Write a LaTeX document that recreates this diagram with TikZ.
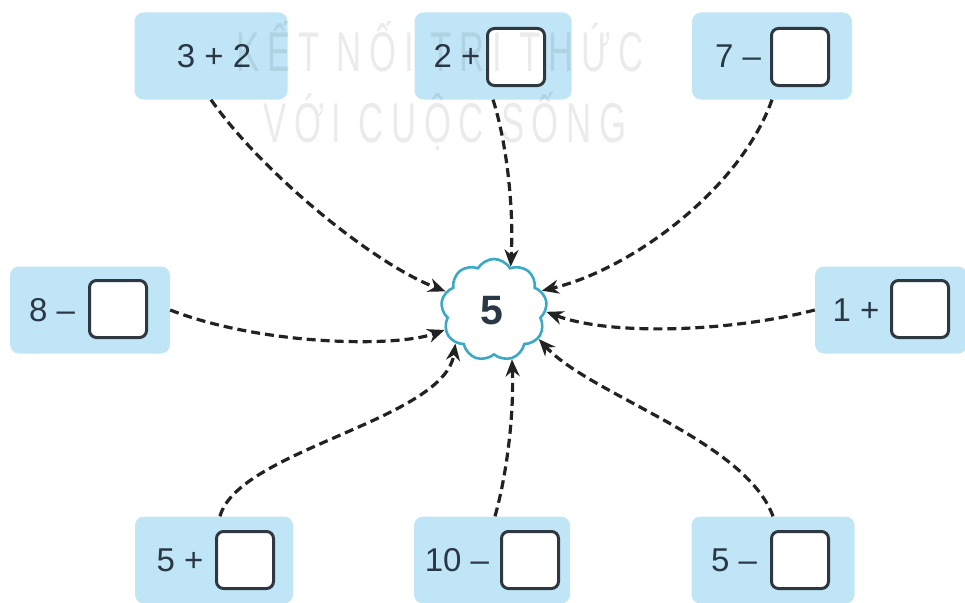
\documentclass[tikz,border=0pt]{standalone}
\usepackage{fontspec}
\setmainfont{Liberation Sans}
\newfontfamily\wmfont[LetterSpace=22]{Liberation Sans}
\usetikzlibrary{shapes.symbols,arrows.meta}
\definecolor{boxblue}{RGB}{192,229,246}
\definecolor{txt}{RGB}{42,56,70}
\definecolor{sqdark}{RGB}{47,56,64}
\definecolor{arr}{RGB}{34,34,34}
\definecolor{cloudc}{RGB}{59,169,198}
\begin{document}
\begin{tikzpicture}[x=1pt,y=-1pt,
 boxst/.style={fill=boxblue, rounded corners=9pt, minimum width=#1, minimum height=87pt, inner sep=0pt},
 sq/.style={draw=sqdark, fill=white, line width=3pt, rounded corners=7pt, minimum size=57pt, inner sep=0pt},
 lbl/.style={font=\fontsize{33}{33}\selectfont, text=txt, inner sep=0pt},
 link/.style={draw=arr, line width=3.2pt, dash pattern=on 9pt off 5pt, -{Stealth[length=17pt,width=14pt]}},
 wm/.style={font=\wmfont\fontsize{56}{56}\selectfont, text=black, opacity=0.08, xscale=0.62, inner sep=0pt}
]
\useasboundingbox (0,0) rectangle (965,602);
% boxes
\node[boxst=153pt] (b1) at (211,56) {};
\node[boxst=157pt] (b2) at (493,56) {};
\node[boxst=160pt] (b3) at (772,56) {};
\node[boxst=160pt] (b4) at (90,310) {};
\node[boxst=152pt] (b5) at (891,310) {};
\node[boxst=158pt] (b6) at (214,560) {};
\node[boxst=156pt] (b7) at (492,560) {};
\node[boxst=163pt] (b8) at (773,560) {};
% labels
\node[lbl] (t1) at (214,56) {3 + 2};
\node[lbl] (t2) at (457,56) {2 +};
\node[sq]  (s2) at (516,57) {};
\node[lbl] (t3) at (738,56) {7 –};
\node[sq]  (s3) at (800,57) {};
\node[lbl] (t4) at (52,310) {8 –};
\node[sq]  (s4) at (118,309) {};
\node[lbl] (t5) at (856,310) {1 +};
\node[sq]  (s5) at (920,309) {};
\node[lbl] (t6) at (180,560) {5 +};
\node[sq]  (s6) at (245,560) {};
\node[lbl] (t7) at (457,560) {10 –};
\node[sq]  (s7) at (530,560) {};
\node[lbl] (t8) at (734,560) {5 –};
\node[sq]  (s8) at (800,560) {};
% watermark
\node[wm] (w1) at (440,47) {KẾT NỐI TRI THỨC};
\node[wm] (w2) at (445,122) {VỚI CUỘC SỐNG};
% cloud
\node[cloud, cloud puffs=9, cloud puff arc=120, aspect=1.05, draw=cloudc, line width=2.6pt, fill=white,
      minimum width=106pt, minimum height=102pt, inner sep=0pt] (c) at (494,310) {};
\node[font=\bfseries\fontsize{41}{41}\selectfont, text=txt, inner sep=0pt] (five) at (492,311) {5};
% connectors
\draw[link] (b1.south) .. controls (260,170) and (370,262) .. (c.159);
\draw[link] (b2.south) .. controls (506,140) and (514,205) .. (c.69);
\draw[link] (b3.south) .. controls (740,190) and (630,270) .. (c.22);
\draw[link] (b4.east) .. controls (260,345) and (395,348) .. (c.202);
\draw[link] (b5.west) .. controls (730,332) and (610,336) .. (c.358);
\draw[link] ([xshift=6pt]b6.north) .. controls (238,450) and (445,420) .. (c.221);
\draw[link] ([xshift=3pt]b7.north) .. controls (508,470) and (514,410) .. (c.290);
\draw[link] (b8.north) .. controls (745,440) and (590,395) .. (c.327);
\end{tikzpicture}
\end{document}
